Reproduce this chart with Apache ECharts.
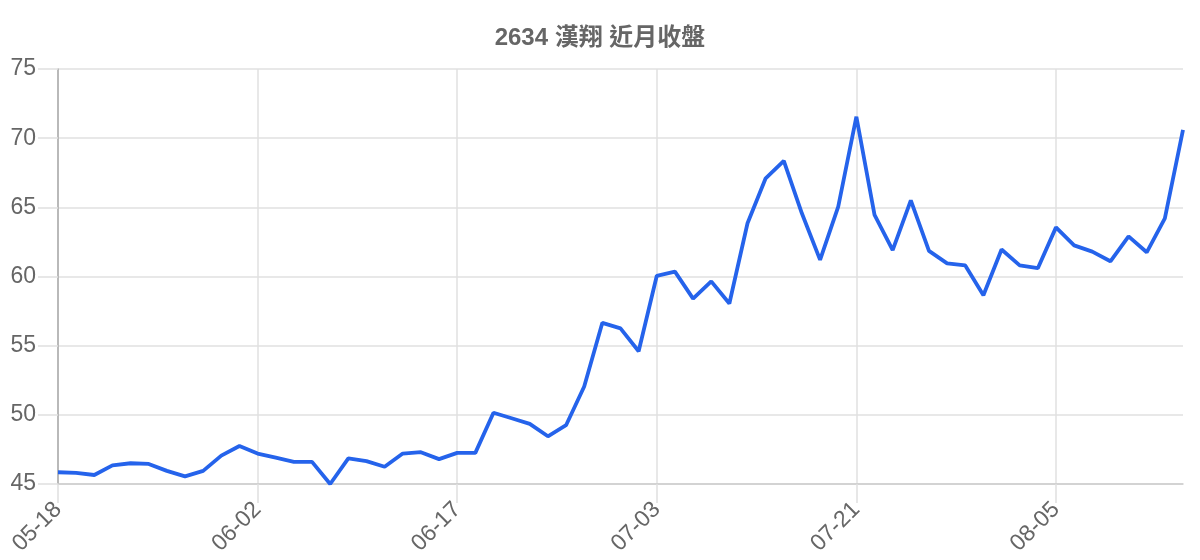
<!DOCTYPE html>
<html>
<head>
<meta charset="utf-8">
<script src="https://cdn.jsdelivr.net/npm/echarts@6/dist/echarts.min.js"></script>
<style>html,body{margin:0;padding:0;background:#fff;}#c{width:1200px;height:560px;}</style>
</head>
<body>
<div id="c"></div>
<script>
const titleText = '2634 漢翔 近月收盤';
const dates = ['05-18','05-19','05-20','05-21','05-22','05-25','05-26','05-27','05-28','05-29','06-01',
  '06-02','06-03','06-04','06-05','06-08','06-09','06-10','06-11','06-12','06-15','06-16',
  '06-17','06-18','06-19','06-22','06-23','06-24','06-25','06-26','06-29','06-30','07-01',
  '07-03','07-06','07-07','07-08','07-09','07-10','07-13','07-14','07-15','07-16','07-17',
  '07-21','07-22','07-23','07-24','07-27','07-28','07-29','07-30','07-31','08-03','08-04',
  '08-05','08-06','08-07','08-10','08-11','08-12','08-13','08-14'];
const closes = [45.85,45.8,45.65,46.35,46.5,46.45,45.95,45.55,45.95,47.05,47.75,
  47.2,46.9,46.6,46.6,45.0,46.85,46.65,46.25,47.2,47.3,46.8,
  47.25,47.25,50.15,49.75,49.35,48.45,49.25,52.05,56.65,56.25,54.6,
  60.05,60.35,58.4,59.65,58.05,63.85,67.1,68.35,64.55,61.2,65.05,
  71.55,64.45,61.9,65.5,61.85,60.95,60.8,58.65,61.95,60.8,60.6,
  63.55,62.25,61.8,61.1,62.9,61.75,64.2,70.6];
const yMin = 45, yMax = 75, yStep = 5;

const chart = echarts.init(document.getElementById('c'));
chart.setOption({
  animation: false,
  title: {
    text: titleText, left: 'center', top: 21,
    textStyle: { color: '#666', fontSize: 24, fontWeight: 'bold', fontFamily: 'Liberation Sans, Noto Sans CJK TC, sans-serif' }
  },
  grid: { left: 58, right: 17, top: 69, bottom: 76, containLabel: false },
  xAxis: {
    type: 'category', data: dates, boundaryGap: false,
    axisLine: { show: true, lineStyle: { color: '#cccccc', width: 1.5 } },
    axisTick: { show: true, interval: 10, length: 19, lineStyle: { color: '#e0e0e0', width: 1.5 } },
    splitLine: { show: true, interval: 10, lineStyle: { color: '#e0e0e0', width: 1.5 } },
    axisLabel: { interval: 10, rotate: 45, margin: 22, color: '#666', fontSize: 23, fontFamily: 'Liberation Sans, sans-serif' }
  },
  yAxis: {
    type: 'value', min: yMin, max: yMax, interval: yStep,
    axisLine: { show: true, lineStyle: { color: '#aaaaaa', width: 1.5 } },
    axisTick: { show: true, length: 20, lineStyle: { color: '#e0e0e0', width: 1.5 } },
    splitLine: { show: true, lineStyle: { color: '#e0e0e0', width: 1.5 } },
    axisLabel: { margin: 22, color: '#666', fontSize: 23, fontFamily: 'Liberation Sans, sans-serif' }
  },
  series: [{
    type: 'line', data: closes, symbol: 'none', smooth: false,
    lineStyle: { color: '#2563eb', width: 3.8 }
  }]
});
</script>
</body>
</html>
